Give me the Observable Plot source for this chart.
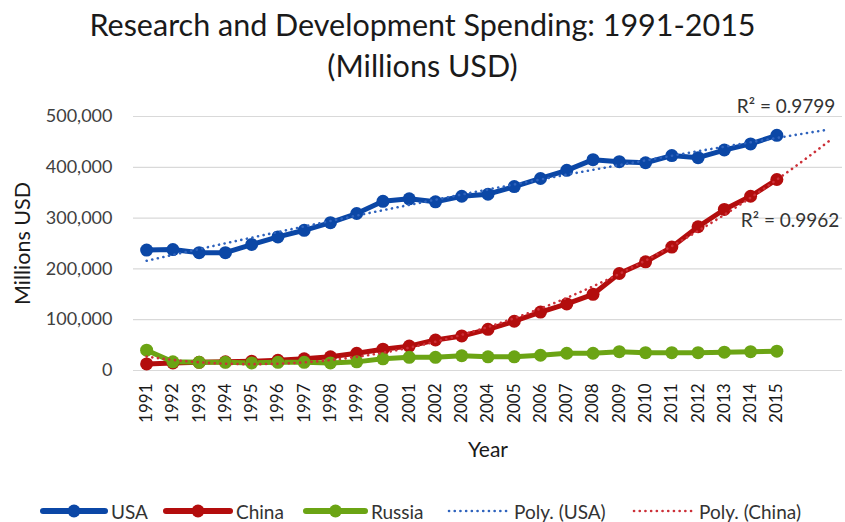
<!DOCTYPE html>
<html><head><meta charset="utf-8">
<script src="https://cdn.jsdelivr.net/npm/d3@7"></script>
<script src="https://cdn.jsdelivr.net/npm/@observablehq/plot@0.6"></script>
<style>
body{margin:0;background:#fff;font-family:Lato,"Open Sans",sans-serif;}
#wrap{position:relative;width:845px;height:522px;overflow:hidden;background:#fff}
#title{position:absolute;top:4px;left:0;width:845px;text-align:center;font-size:30.5px;color:#1a1a1a;line-height:41px}
#chart{position:absolute;top:92px;left:0}
#legend{position:absolute;top:500px;left:0;width:845px;height:22px;font-size:19px;color:#333}
.item{position:absolute;top:0;display:flex;align-items:center;height:22px;white-space:nowrap}
.item svg{margin-right:3px}
</style></head><body>
<div id="wrap">
<div id="title">Research and Development Spending: 1991-2015<br>(Millions USD)</div>
<div id="chart"></div>
<div id="legend"></div>
</div>
<script>
const years = [1991,1992,1993,1994,1995,1996,1997,1998,1999,2000,2001,2002,2003,2004,2005,2006,2007,2008,2009,2010,2011,2012,2013,2014,2015];
const usa = [237000,238000,232000,232000,248000,263000,276000,291000,309000,333000,338000,332000,343000,347000,362000,378000,394000,415000,411000,409000,423000,419000,434000,446000,463000];
const china = [13000,15000,16000,17000,18000,20000,23000,27000,34000,42000,48000,60000,68000,81000,97000,115000,131000,150000,191000,214000,243000,283000,317000,343000,376000];
const russia = [40000,17000,16000,16000,15000,16000,16000,15000,17000,23000,26000,26000,29000,27000,27000,30000,34000,34000,37000,35000,35000,35000,36000,37000,38000];
const yTicks = [0,100000,200000,300000,400000,500000];
const seriesNames = ["USA","China","Russia"];
const seriesColors = ["#0b47a6","#b30d0d","#6ba414"];
const trendNames = ["Poly. (USA)","Poly. (China)"];
const trendColors = ["#2f63bd","#cc3038"];
const r2Labels = ["R\u00b2 = 0.9799","R\u00b2 = 0.9962"];
const forecastYears = [2016,2017];

// Order-2 polynomial least squares fit (Excel "Poly." trendline), x = 1..n
function polyfit2(ys){
  const xs = ys.map((_,i)=>i+1);
  let S=[0,0,0,0,0], T=[0,0,0];
  xs.forEach((x,i)=>{for(let k=0;k<5;k++)S[k]+=x**k; for(let k=0;k<3;k++)T[k]+=ys[i]*x**k;});
  const A=[[S[0],S[1],S[2],T[0]],[S[1],S[2],S[3],T[1]],[S[2],S[3],S[4],T[2]]];
  for(let c=0;c<3;c++){
    for(let r=c+1;r<3;r++){const f=A[r][c]/A[c][c]; for(let k=c;k<4;k++)A[r][k]-=f*A[c][k];}
  }
  const b=[0,0,0];
  for(let r=2;r>=0;r--){let s=A[r][3]; for(let k=r+1;k<3;k++)s-=A[r][k]*b[k]; b[r]=s/A[r][r];}
  return x=>b[0]+b[1]*x+b[2]*x*x;
}
const allYears = years.concat(forecastYears);
const trendData = [usa, china].flatMap((vals,si)=>{
  const f = polyfit2(vals);
  return allYears.map((yr,i)=>({year:yr, value:f(i+1), name:trendNames[si]}));
});
const rows = [usa,china,russia].flatMap((vals,si)=>years.map((yr,i)=>({year:yr,value:vals[i],name:seriesNames[si]})));
const trendEnds = trendNames.map((n,i)=>{const d=trendData.filter(r=>r.name===n); return {...d[d.length-1], label:r2Labels[i]};});

const color = {domain: seriesNames.concat(trendNames), range: seriesColors.concat(trendColors)};

const chart = Plot.plot({
  width:845, height:400,
  marginTop:24, marginBottom:122, marginLeft:133, marginRight:3,
  style:{fontFamily:"Lato, 'Open Sans', sans-serif", background:"#fff", overflow:"visible"},
  x:{domain:[1990.5,2017.5]},
  y:{domain:[0,500000]},
  color,
  marks:[
    Plot.ruleY(yTicks, {stroke:"#d9d9d9", strokeWidth:1.2}),
    Plot.axisY(yTicks, {tickSize:0, tickPadding:21, tickFormat:d3.format(","), label:null, fontSize:18, fill:"#404040"}),
    Plot.axisX(years, {tickSize:0, tickPadding:13, tickRotate:-90, tickFormat:d=>String(d), label:null, fontSize:17, fill:"#1a1a1a"}),
    Plot.text(["Year"], {frameAnchor:"bottom", lineAnchor:"middle", dy:80, fontSize:21, fill:"#1a1a1a"}),
    Plot.text(["Millions USD"], {frameAnchor:"left", textAnchor:"middle", dx:-110, rotate:-90, fontSize:21.5, fill:"#1a1a1a"}),
    Plot.line(rows, {x:"year", y:"value", z:"name", stroke:"name", strokeWidth:5, strokeLinejoin:"round"}),
    Plot.dot(rows, {x:"year", y:"value", fill:"name", r:6.5, stroke:null}),
    Plot.line(trendData, {x:"year", y:"value", z:"name", stroke:"name", strokeWidth:2.6, strokeDasharray:"0.1 5.6", strokeLinecap:"round", curve:"natural"}),
    Plot.text(trendEnds.slice(0,1), {x:"year", y:"value", text:"label", textAnchor:"end", lineAnchor:"middle", dx:6, dy:-23, fontSize:19, fill:"#333"}),
    Plot.text(trendEnds.slice(1,2), {x:"year", y:"value", text:"label", textAnchor:"end", lineAnchor:"middle", dx:10, dy:80, fontSize:19, fill:"#333"})
  ]
});
document.getElementById("chart").appendChild(chart);

// Legend
const legend = document.getElementById("legend");
const items = [
  {name:seriesNames[0], color:seriesColors[0], type:"line", left:40, w:68},
  {name:seriesNames[1], color:seriesColors[1], type:"line", left:163, w:70},
  {name:seriesNames[2], color:seriesColors[2], type:"line", left:303, w:65},
  {name:trendNames[0], color:trendColors[0], type:"dot", left:447, w:64},
  {name:trendNames[1], color:trendColors[1], type:"dot", left:632, w:64}
];
items.forEach(it=>{
  const div=document.createElement("div"); div.className="item"; div.style.left=it.left+"px";
  const ns="http://www.w3.org/2000/svg";
  const s=document.createElementNS(ns,"svg"); s.setAttribute("width",it.w); s.setAttribute("height",14);
  const l=document.createElementNS(ns,"line");
  l.setAttribute("x1",it.type==="line"?3:2); l.setAttribute("x2",it.w-(it.type==="line"?3:2)); l.setAttribute("y1",7); l.setAttribute("y2",7);
  l.setAttribute("stroke",it.color);
  if(it.type==="line"){l.setAttribute("stroke-width",6); l.setAttribute("stroke-linecap","round");
    s.appendChild(l);
    const c=document.createElementNS(ns,"circle"); c.setAttribute("cx",it.w/2); c.setAttribute("cy",7); c.setAttribute("r",6.5); c.setAttribute("fill",it.color); s.appendChild(c);
  } else {l.setAttribute("stroke-width",2.6); l.setAttribute("stroke-dasharray","0.1 5.6"); l.setAttribute("stroke-linecap","round"); s.appendChild(l);}
  div.appendChild(s);
  const t=document.createElement("span"); t.textContent=it.name; div.appendChild(t);
  legend.appendChild(div);
});
</script>
</body></html>
